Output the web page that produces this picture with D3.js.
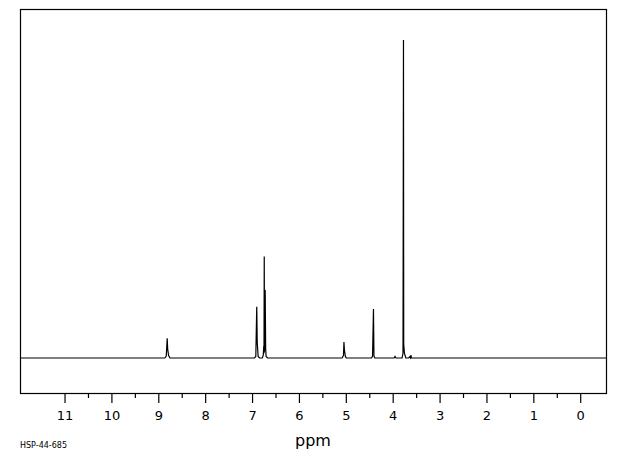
<!DOCTYPE html>
<html>
<head>
<meta charset="utf-8">
<script src="https://cdn.jsdelivr.net/npm/d3@7"></script>
<style>
  body { margin: 0; background: #fff; }
  svg { display: block; }
  .axis text { font-family: "DejaVu Sans", sans-serif; font-size: 13px; fill: #000; }
  .label { font-family: "DejaVu Sans", sans-serif; font-size: 16px; fill: #000; }
  .code { font-family: "DejaVu Sans", sans-serif; font-size: 8px; fill: #000; }
</style>
</head>
<body>
<svg width="620" height="455"></svg>
<script>
// chemical shift (ppm), intensity (tallest peak = 100)
var tracePpm = [11.95, 8.86, 8.83, 8.81, 8.80, 8.78, 8.75,
    6.95, 6.92, 6.90, 6.89, 6.87, 6.84,
    6.78, 6.76, 6.75, 6.745, 6.74, 6.735, 6.72, 6.71, 6.70, 6.67,
    5.08, 5.05, 5.04, 5.03, 5.01, 4.99,
    4.45, 4.43, 4.41, 4.40, 4.38,
    3.97, 3.95, 3.93, 3.80, 3.78, 3.77, 3.765, 3.75, 3.72,
    3.66, 3.64, 3.62, 3.61, 3.60, -0.55];
var traceInt = [0, 0, 0.6, 6.2, 2.8, 0.8, 0,
    0, 0.5, 16.1, 5, 0.5, 0,
    0, 1, 3.8, 1.5, 31.9, 2, 21.4, 3, 0.5, 0,
    0, 0.8, 5.0, 2.5, 0.5, 0,
    0, 0.6, 15.4, 0.6, 0,
    0, 0.5, 0, 0, 1.5, 100, 4.4, 1.5, 0,
    0, 0.4, 0, 0.9, 0, 0];

var majorTicks = [11, 10, 9, 8, 7, 6, 5, 4, 3, 2, 1, 0];
var minorTicks = [10.5, 9.5, 8.5, 7.5, 6.5, 5.5, 4.5, 3.5, 2.5, 1.5, 0.5];

var svg = d3.select('svg');

var xScale = d3.scaleLinear()
    .domain([11.95, -0.55])
    .range([20, 606]);

var yScale = d3.scaleLinear()
    .domain([-11, 109.75])
    .range([393, 9]);

svg.append('rect')
    .attr('x', 20.5)
    .attr('y', 9.5)
    .attr('width', 586)
    .attr('height', 384)
    .attr('fill', 'none')
    .attr('stroke', '#000')
    .attr('stroke-width', 1.2);

var trace = d3.zip(tracePpm, traceInt);

var line = d3.line()
    .x(function(d){ return xScale(d[0]); })
    .y(function(d){ return yScale(d[1]); });

svg.append('path')
    .datum(trace)
    .attr('d', line)
    .attr('fill', 'none')
    .attr('stroke', '#000')
    .attr('stroke-width', 1.2);

var xAxis = d3.axisBottom(xScale)
    .tickValues(majorTicks)
    .tickSize(10)
    .tickPadding(8)
    .tickFormat(d3.format('d'));

svg.append('g')
    .attr('class', 'x axis')
    .attr('transform', 'translate(0,393)')
    .call(xAxis)
    .call(function(g){ g.select('.domain').remove(); });

var minorAxis = d3.axisBottom(xScale)
    .tickValues(minorTicks)
    .tickSize(5)
    .tickFormat('');

svg.append('g')
    .attr('class', 'minor axis')
    .attr('transform', 'translate(0,393)')
    .call(minorAxis)
    .call(function(g){ g.select('.domain').remove(); });

svg.selectAll('.axis line')
    .attr('stroke', '#000')
    .attr('stroke-width', 1.2);

svg.append('text')
    .attr('class', 'label')
    .attr('x', 313)
    .attr('y', 446)
    .attr('text-anchor', 'middle')
    .text('ppm');

svg.append('text')
    .attr('class', 'code')
    .attr('x', 20)
    .attr('y', 448)
    .text('HSP-44-685');
</script>
</body>
</html>
